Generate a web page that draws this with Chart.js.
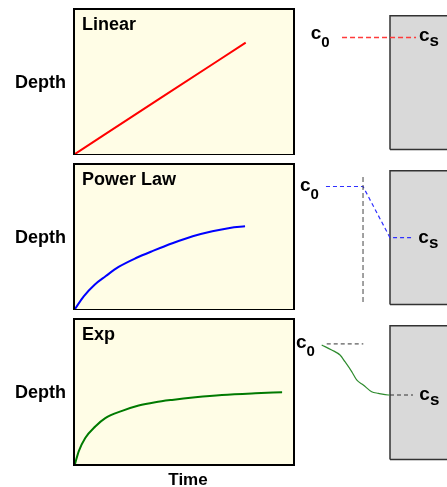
<!DOCTYPE html>
<html>
<head>
<meta charset="utf-8">
<script src="https://cdn.jsdelivr.net/npm/chart.js@4.4.1/dist/chart.umd.min.js"></script>
<style>
  html, body { margin: 0; padding: 0; background: #fff; }
  #wrap { position: relative; width: 447px; height: 487px; overflow: hidden; }
  canvas { position: absolute; }
</style>
</head>
<body>
<div id="wrap">
  <canvas id="growLinear" width="295" height="155" style="left:0;top:0"></canvas>
  <canvas id="growPower" width="295" height="155" style="left:0;top:155px"></canvas>
  <canvas id="growExp" width="295" height="177" style="left:0;top:310px"></canvas>
  <canvas id="profLinear" width="152" height="155" style="left:295px;top:0"></canvas>
  <canvas id="profPower" width="152" height="155" style="left:295px;top:155px"></canvas>
  <canvas id="profExp" width="152" height="155" style="left:295px;top:310px"></canvas>
</div>
<script>
// ---- growth curves: depth vs time (arbitrary units, 0..10) ----
const linearTime  = [0, 3.9, 7.83];
const linearDepth = [0, 3.86, 7.73];

const powerTime  = [0, 0.4, 0.9, 1.4, 2.0, 2.8, 3.6, 4.5, 5.4, 6.3, 7.1, 7.8];
const powerDepth = [0, 0.88, 1.69, 2.27, 2.92, 3.54, 4.05, 4.58, 5.05, 5.40, 5.63, 5.74];

const expTime  = [0, 0.17, 0.47, 0.93, 1.39, 2.16, 2.92, 3.68, 4.45, 5.52, 6.74, 8.27, 9.50];
const expDepth = [0, 0.88, 1.81, 2.61, 3.19, 3.69, 4.06, 4.29, 4.45, 4.63, 4.79, 4.91, 4.98];

const panelTitles = ['Linear', 'Power Law', 'Exp'];
const yAxisLabel = 'Depth';
const xAxisLabel = 'Time';

// ---- concentration profiles near the surface (x = distance, surface at 0) ----
const surfaceBoxX = [0, 0, 0.7, 0.7, 0];
const surfaceBoxC = [0.045, 1.15, 1.15, 0.045, 0.045];

const linearProfileX = [-0.505, 0.274];
const linearProfileC = [0.97, 0.97];

const powerProfileX = [-0.674, -0.284, 0, 0.242];
const powerProfileC = [1.02, 1.02, 0.597, 0.597];
const interfaceX = [-0.284, -0.284];
const interfaceC = [0.066, 1.115];

const expProfileX = [-0.719, -0.614, -0.526, -0.474, -0.403, -0.351, -0.281, -0.193, -0.123, -0.018, 0];
const expProfileC = [0.991, 0.950, 0.908, 0.853, 0.771, 0.702, 0.661, 0.605, 0.592, 0.578, 0.578];
const expBulkRefX = [-0.666, -0.281];
const expBulkRefC = [1.0, 1.0];
const expSurfRefX = [0, 0.242];
const expSurfRefC = [0.578, 0.578];

// label anchors: [x, c, subscript]
const linearProfileLabels = [[-0.835, 0.960, '0'], [0.305, 0.940, 's']];
const powerProfileLabels  = [[-0.947, 0.985, '0'], [0.298, 0.556, 's']];
const expProfileLabels    = [[-0.989, 0.964, '0'], [0.309, 0.537, 's']];

const FONT = '"Liberation Sans", Arial, Helvetica, sans-serif';

const toPoints = (xs, ys) => xs.map((x, i) => ({ x, y: ys[i] }));

const panelFrame = {
  id: 'panelFrame',
  beforeDraw(chart) {
    const { ctx, chartArea: a } = chart;
    ctx.save();
    ctx.fillStyle = '#fffde6';
    ctx.fillRect(a.left, a.top, a.right - a.left, a.bottom - a.top);
    ctx.restore();
  },
  afterDraw(chart, args, opts) {
    const { ctx, chartArea: a } = chart;
    ctx.save();
    ctx.strokeStyle = '#000';
    ctx.lineWidth = 2;
    ctx.strokeRect(a.left - 1, a.top - 1, a.right - a.left + 2, a.bottom - a.top + 2);
    ctx.fillStyle = '#000';
    ctx.textBaseline = 'alphabetic';
    ctx.font = 'bold 18px ' + FONT;
    ctx.textAlign = 'left';
    ctx.fillText(opts.title, a.left + 7, a.top + 20);
    ctx.fillText(yAxisLabel, 15, a.top + 77.5);
    if (opts.showTime) {
      ctx.font = 'bold 17px ' + FONT;
      ctx.textAlign = 'center';
      ctx.fillText(xAxisLabel, 188, a.bottom + 21);
    }
    ctx.restore();
  }
};

function growthChart(id, title, xs, ys, color, showTime) {
  const h = document.getElementById(id).height;
  return new Chart(document.getElementById(id), {
    type: 'line',
    data: {
      datasets: [{
        data: toPoints(xs, ys),
        borderColor: color,
        borderWidth: 2,
        pointRadius: 0,
        cubicInterpolationMode: 'monotone',
        fill: false
      }]
    },
    options: {
      responsive: false,
      animation: false,
      devicePixelRatio: 1,
      layout: { padding: { left: 75, top: 10, right: 2, bottom: h - 154 } },
      scales: {
        x: { type: 'linear', min: 0, max: 10, display: false },
        y: { type: 'linear', min: 0, max: 10, display: false }
      },
      plugins: {
        legend: { display: false },
        tooltip: { enabled: false },
        panelFrame: { title, showTime }
      }
    },
    plugins: [panelFrame]
  });
}

growthChart('growLinear', panelTitles[0], linearTime, linearDepth, '#ff0000', false);
growthChart('growPower', panelTitles[1], powerTime, powerDepth, '#0000ff', false);
growthChart('growExp', panelTitles[2], expTime, expDepth, '#007a00', true);

const concLabels = {
  id: 'concLabels',
  afterDatasetsDraw(chart, args, opts) {
    const { ctx, scales } = chart;
    ctx.save();
    ctx.fillStyle = '#000';
    ctx.textAlign = 'left';
    ctx.textBaseline = 'alphabetic';
    opts.items.forEach(([x, c, sub]) => {
      const px = scales.x.getPixelForValue(x);
      const py = scales.y.getPixelForValue(c);
      ctx.font = 'bold 19px ' + FONT;
      ctx.fillText('c', px, py);
      const w = ctx.measureText('c').width;
      ctx.font = (sub === 's' ? 'bold 17px ' : 'bold 15px ') + FONT;
      ctx.fillText(sub, px + w, py + (sub === 's' ? 5 : 8));
    });
    ctx.restore();
  }
};

function surfaceBox() {
  return {
    data: toPoints(surfaceBoxX, surfaceBoxC),
    borderColor: '#333',
    borderWidth: 1.5,
    backgroundColor: '#d9d9d9',
    fill: 'shape',
    pointRadius: 0,
    tension: 0,
    order: 10
  };
}

function dashed(xs, cs, color, dash, width) {
  return {
    data: toPoints(xs, cs),
    borderColor: color,
    borderWidth: width || 1,
    borderDash: dash,
    pointRadius: 0,
    tension: 0,
    fill: false,
    order: 1
  };
}

function profileChart(id, datasets, labels) {
  return new Chart(document.getElementById(id), {
    type: 'line',
    data: { datasets: [surfaceBox(), ...datasets] },
    options: {
      responsive: false,
      animation: false,
      devicePixelRatio: 1,
      layout: { padding: 0 },
      scales: {
        x: { type: 'linear', min: -1, max: 0.6, display: false },
        y: { type: 'linear', min: 0, max: 1.28, display: false }
      },
      plugins: {
        legend: { display: false },
        tooltip: { enabled: false },
        concLabels: { items: labels }
      }
    },
    plugins: [concLabels]
  });
}

profileChart('profLinear', [
  dashed(linearProfileX, linearProfileC, '#ff3b3b', [5, 3], 1.4)
], linearProfileLabels);

profileChart('profPower', [
  dashed(interfaceX, interfaceC, '#444444', [5, 3]),
  dashed(powerProfileX, powerProfileC, '#3030ff', [4, 3], 1.2)
], powerProfileLabels);

profileChart('profExp', [
  dashed(expBulkRefX, expBulkRefC, '#333333', [4, 3]),
  dashed(expSurfRefX, expSurfRefC, '#333333', [4, 3]),
  {
    data: toPoints(expProfileX, expProfileC),
    borderColor: '#2e8b2e',
    borderWidth: 1.2,
    pointRadius: 0,
    cubicInterpolationMode: 'monotone',
    fill: false,
    order: 1
  }
], expProfileLabels);
</script>
</body>
</html>
